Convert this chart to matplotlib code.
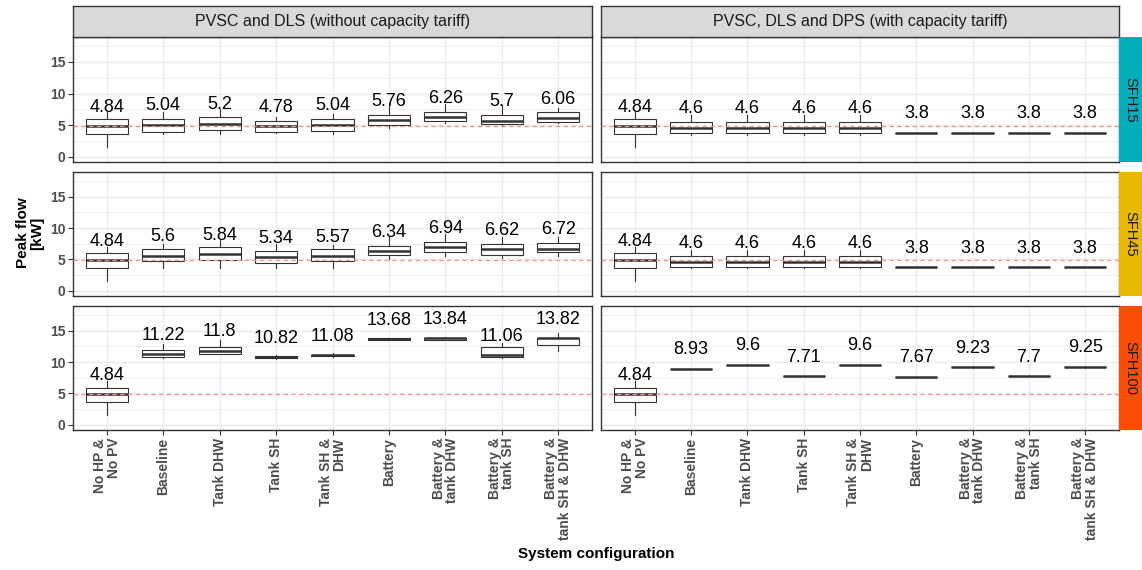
import matplotlib
matplotlib.use("Agg")
import matplotlib.pyplot as plt
from matplotlib.ticker import MultipleLocator, FixedLocator

plt.rcParams["font.family"] = ["Liberation Sans", "DejaVu Sans"]

# ---- data -----------------------------------------------------------------
categories = ["No HP &\nNo PV", "Baseline", "Tank DHW", "Tank SH", "Tank SH &\nDHW",
              "Battery", "Battery &\ntank DHW", "Battery &\ntank SH",
              "Battery &\ntank SH & DHW"]
columns = ["PVSC and DLS (without capacity tariff)",
           "PVSC, DLS and DPS (with capacity tariff)"]
buildings = ["SFH15", "SFH45", "SFH100"]
building_colors = ["#00AFBB", "#E7B800", "#FC4E07"]
reference_peak = 4.84

# SFH15, without capacity tariff
sfh15_a_med = [4.84, 5.04, 5.2, 4.78, 5.04, 5.76, 6.26, 5.7, 6.06]
sfh15_a_q1 = [3.6, 3.85, 4.15, 3.85, 4.05, 5.05, 5.6, 5.1, 5.5]
sfh15_a_q3 = [5.9, 6.0, 6.2, 5.7, 5.95, 6.6, 7.0, 6.65, 7.0]
sfh15_a_lo = [1.45, 3.6, 3.6, 3.7, 3.55, 4.5, 5.25, 4.85, 5.25]
sfh15_a_hi = [7.0, 7.1, 7.6, 6.3, 6.8, 8.0, 8.4, 8.1, 7.75]

# SFH15, with capacity tariff
sfh15_b_med = [4.84, 4.6, 4.6, 4.6, 4.6, 3.8, 3.8, 3.8, 3.8]
sfh15_b_q1 = [3.6, 3.8, 3.8, 3.8, 3.8, 3.8, 3.8, 3.8, 3.8]
sfh15_b_q3 = [5.9, 5.55, 5.55, 5.55, 5.55, 3.8, 3.8, 3.8, 3.8]
sfh15_b_lo = [1.45, 3.45, 3.45, 3.45, 3.45, 3.8, 3.8, 3.8, 3.8]
sfh15_b_hi = [7.0, 6.6, 6.6, 6.6, 6.6, 3.8, 3.8, 3.8, 3.8]

# SFH45, without capacity tariff
sfh45_a_med = [4.84, 5.6, 5.84, 5.34, 5.57, 6.34, 6.94, 6.62, 6.72]
sfh45_a_q1 = [3.6, 4.7, 4.84, 4.47, 4.7, 5.7, 6.2, 5.75, 6.1]
sfh45_a_q3 = [5.95, 6.6, 7.0, 6.37, 6.6, 7.2, 7.7, 7.5, 7.6]
sfh45_a_lo = [1.55, 3.6, 3.6, 3.6, 3.6, 5.1, 5.5, 5.2, 5.6]
sfh45_a_hi = [7.0, 7.5, 8.05, 7.5, 7.3, 8.6, 9.1, 8.6, 8.6]

# SFH45, with capacity tariff
sfh45_b_med = [4.84, 4.6, 4.6, 4.6, 4.6, 3.8, 3.8, 3.8, 3.8]
sfh45_b_q1 = [3.6, 3.8, 3.8, 3.8, 3.8, 3.8, 3.8, 3.8, 3.8]
sfh45_b_q3 = [5.95, 5.6, 5.6, 5.6, 5.6, 3.8, 3.8, 3.8, 3.8]
sfh45_b_lo = [1.55, 3.7, 3.7, 3.7, 3.7, 3.8, 3.8, 3.8, 3.8]
sfh45_b_hi = [7.0, 6.5, 6.5, 6.5, 6.5, 3.8, 3.8, 3.8, 3.8]

# SFH100, without capacity tariff
sfh100_a_med = [4.84, 11.22, 11.8, 10.82, 11.08, 13.68, 13.84, 11.06, 13.82]
sfh100_a_q1 = [3.6, 10.8, 11.35, 10.6, 10.9, 13.5, 13.55, 10.85, 12.75]
sfh100_a_q3 = [5.9, 12.0, 12.45, 10.95, 11.2, 13.8, 13.9, 12.45, 13.85]
sfh100_a_lo = [1.55, 10.7, 11.35, 10.55, 10.85, 13.45, 13.5, 10.6, 11.8]
sfh100_a_hi = [6.9, 12.9, 13.5, 11.15, 11.4, 13.9, 14.0, 13.1, 14.7]

# SFH100, with capacity tariff
sfh100_b_med = [4.84, 8.93, 9.6, 7.71, 9.6, 7.67, 9.23, 7.7, 9.25]
sfh100_b_q1 = [3.6, 8.93, 9.6, 7.71, 9.6, 7.67, 9.23, 7.7, 9.25]
sfh100_b_q3 = [5.9, 8.93, 9.6, 7.71, 9.6, 7.67, 9.23, 7.7, 9.25]
sfh100_b_lo = [1.55, 8.93, 9.6, 7.71, 9.6, 7.67, 9.23, 7.7, 9.25]
sfh100_b_hi = [6.9, 8.93, 9.75, 7.8, 9.75, 7.67, 9.3, 7.8, 9.3]

panels = [
    [(sfh15_a_med, sfh15_a_q1, sfh15_a_q3, sfh15_a_lo, sfh15_a_hi),
     (sfh15_b_med, sfh15_b_q1, sfh15_b_q3, sfh15_b_lo, sfh15_b_hi)],
    [(sfh45_a_med, sfh45_a_q1, sfh45_a_q3, sfh45_a_lo, sfh45_a_hi),
     (sfh45_b_med, sfh45_b_q1, sfh45_b_q3, sfh45_b_lo, sfh45_b_hi)],
    [(sfh100_a_med, sfh100_a_q1, sfh100_a_q3, sfh100_a_lo, sfh100_a_hi),
     (sfh100_b_med, sfh100_b_q1, sfh100_b_q3, sfh100_b_lo, sfh100_b_hi)],
]

# ---- layout (pixels) ------------------------------------------------------
W, H = 1142, 570
fig = plt.figure(figsize=(W / 100, H / 100), dpi=100)


def axes_px(x0, y0, x1, y1):
    return fig.add_axes([x0 / W, 1 - y1 / H, (x1 - x0) / W, (y1 - y0) / H])


col_x = [(73, 592), (601, 1119)]
row_y = [(37, 162), (172, 296), (306, 430)]
strip_top = (6, 37)
strip_right = (1119, 1142)

dark = "#333333"
tick_col = "#4D4D4D"
positions = list(range(1, len(categories) + 1))

for r, (y0, y1) in enumerate(row_y):
    for c, (x0, x1) in enumerate(col_x):
        ax = axes_px(x0, y0, x1, y1)
        med, q1, q3, lo, hi = panels[r][c]
        stats = [dict(med=m, q1=a, q3=b, whislo=l, whishi=h)
                 for m, a, b, l, h in zip(med, q1, q3, lo, hi)]
        ax.bxp(stats, positions=positions, widths=0.75, showfliers=False,
               showcaps=False, patch_artist=True,
               boxprops=dict(facecolor="white", edgecolor=dark, linewidth=0.8),
               medianprops=dict(color=dark, linewidth=1.8),
               whiskerprops=dict(color=dark, linewidth=0.8),
               manage_ticks=False, zorder=2)
        ax.axhline(reference_peak, color="#FF8A8A", linewidth=0.8,
                   linestyle=(0, (4, 3)), zorder=3)
        for x, m in zip(positions, med):
            ax.text(x, m + 3, f"{m:g}", ha="center", va="center",
                    fontsize=13, color="black", zorder=4)

        ax.set_xlim(0.4, 9.6)
        ax.set_ylim(-0.85, 18.95)
        ax.set_axisbelow(True)
        ax.yaxis.set_major_locator(FixedLocator([0, 5, 10, 15]))
        ax.yaxis.set_minor_locator(FixedLocator([2.5, 7.5, 12.5, 17.5]))
        ax.xaxis.set_major_locator(FixedLocator(positions))
        ax.grid(which="major", color="#EBEBEB", linewidth=1.0)
        ax.grid(which="minor", axis="y", color="#EBEBEB", linewidth=0.6)
        ax.tick_params(which="minor", length=0)
        ax.tick_params(which="major", length=3.5, width=0.8, color=dark,
                       labelsize=10, labelcolor=tick_col, pad=2)
        for s in ax.spines.values():
            s.set_color(dark)
            s.set_linewidth(1.0)

        if c == 0:
            ax.set_yticklabels(["0", "5", "10", "15"], fontweight="bold")
        else:
            ax.tick_params(axis="y", length=0, labelleft=False)
        if r == len(row_y) - 1:
            ax.set_xticklabels(categories, rotation=90, fontweight="bold",
                               ha="center", va="top", multialignment="right",
                               linespacing=0.95)
        else:
            ax.tick_params(axis="x", length=0, labelbottom=False)

# top facet strips
for c, (x0, x1) in enumerate(col_x):
    sa = axes_px(x0, strip_top[0], x1, strip_top[1])
    sa.set_facecolor("#D9D9D9")
    sa.set_xticks([])
    sa.set_yticks([])
    for s in sa.spines.values():
        s.set_color(dark)
        s.set_linewidth(1.0)
    sa.text(0.5, 0.5, columns[c], transform=sa.transAxes, ha="center",
            va="center", fontsize=11.5, color="#1A1A1A")

# right facet strips
for r, (y0, y1) in enumerate(row_y):
    sa = axes_px(strip_right[0], y0, strip_right[1], y1)
    sa.set_facecolor(building_colors[r])
    sa.set_xticks([])
    sa.set_yticks([])
    for s in sa.spines.values():
        s.set_visible(False)
    sa.text(0.5, 0.5, buildings[r], transform=sa.transAxes, ha="center",
            va="center", rotation=-90, fontsize=10.5, color="#1A1A1A")

fig.text(30 / W, 1 - 233 / H, "Peak flow\n[kW]", rotation=90, ha="center",
         va="center", fontsize=11, fontweight="bold", linespacing=1.0)
fig.text(596 / W, 1 - 554 / H, "System configuration", ha="center",
         va="center", fontsize=11, fontweight="bold")

fig.savefig("out.png", dpi=100, facecolor="white")
